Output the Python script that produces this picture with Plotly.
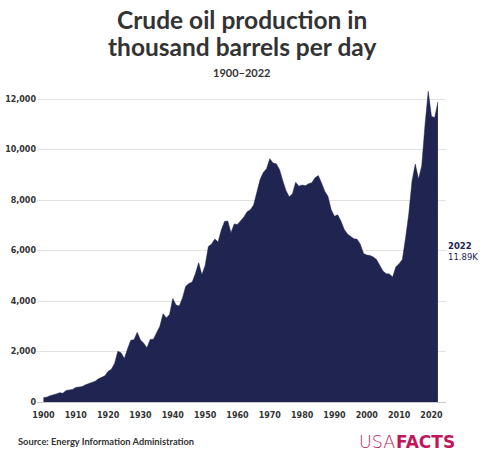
import plotly.graph_objects as go

years = list(range(1900, 2023))
production = [
    174, 190, 244, 275, 320, 369, 347, 456, 489, 500,
    574, 604, 610, 681, 728, 770, 823, 917, 975, 1038,
    1214, 1298, 1530, 2007, 1950, 1720, 2100, 2450, 2470, 2760,
    2460, 2330, 2145, 2480, 2490, 2730, 3000, 3500, 3330, 3470,
    4100, 3840, 3800, 4125, 4585, 4695, 4750, 5090, 5520, 5045,
    5405, 6160, 6255, 6460, 6340, 6810, 7150, 7170, 6710, 7055,
    7035, 7185, 7330, 7540, 7615, 7805, 8295, 8810, 9095, 9240,
    9640, 9465, 9440, 9210, 8775, 8375, 8130, 8245, 8705, 8550,
    8595, 8570, 8650, 8690, 8880, 8970, 8680, 8350, 8140, 7615,
    7355, 7415, 7170, 6845, 6660, 6560, 6465, 6450, 6250, 5880,
    5820, 5800, 5745, 5650, 5440, 5185, 5085, 5075, 4950, 5355,
    5480, 5645, 6500, 7465, 8760, 9430, 8830, 9355, 10955, 12310,
    11320, 11265, 11890,
]
x_ticks = list(range(1900, 2021, 10))
y_ticks = list(range(0, 12001, 2000))

title_lines = ["Crude oil production in", "thousand barrels per day"]
subtitle = "1900–2022"
source = "Source: Energy Information Administration"
last_label = "<b>2022</b><br>11.89K"
logo_light = "USA"
logo_bold = "FACTS"

NAVY = "#1f2451"
TXT = "#333333"
LOGO = "#c2185b"

L, R, T, B = 37, 34, 89, 58
PW = 480 - L - R
PH = 460 - T - B


def py(Y):
    return (460 - B - Y) / PH


def px(X):
    return (X - L) / PW


fig = go.Figure()
fig.add_trace(go.Scatter(
    x=years, y=production, mode="lines", fill="tozeroy",
    line=dict(color=NAVY, width=0.5), fillcolor=NAVY,
    hoverinfo="x+y", showlegend=False,
))

anns = [
    dict(text="<b>" + title_lines[0] + "</b>", x=0.5, y=py(19), yanchor="middle",
         font=dict(family="Lato", size=24.5, color=TXT)),
    dict(text="<b>" + title_lines[1] + "</b>", x=0.5, y=py(46), yanchor="middle",
         font=dict(family="Lato", size=24.5, color=TXT)),
    dict(text="<b>" + subtitle + "</b>", x=0.5, y=py(72), yanchor="middle",
         font=dict(family="Lato", size=11, color=TXT)),
    dict(text=last_label, x=1.0, y=py(251), xanchor="left", yanchor="middle", align="left",
         font=dict(family="DejaVu Sans", size=8.5, color=NAVY)),
    dict(text="<b>" + source + "</b>", x=px(16), y=py(442), xanchor="left", yanchor="middle",
         font=dict(family="Lato", size=9.3, color=TXT)),
    dict(text=logo_light, x=px(396.5), y=py(442), xanchor="right", yanchor="middle",
         font=dict(family="DejaVu Sans", size=17.5, color=LOGO, weight=300)),
    dict(text="<b>" + logo_bold + "</b>", x=px(394), y=py(442), xanchor="left", yanchor="middle",
         font=dict(family="DejaVu Sans", size=17, color=LOGO)),
]
for a in anns:
    a.update(xref="paper", yref="paper", showarrow=False)
    a.setdefault("xanchor", "center")

fig.update_layout(
    width=480, height=460,
    margin=dict(l=L, r=R, t=T, b=B),
    paper_bgcolor="white", plot_bgcolor="white",
    annotations=anns,
    xaxis=dict(range=[1898, 2024.5], tickvals=x_ticks, showgrid=False,
               zeroline=False, showline=False, automargin=False,
               ticks="outside", ticklen=5, tickcolor="rgba(0,0,0,0)",
               tickfont=dict(family="DejaVu Sans", size=8, color=TXT, weight="bold")),
    yaxis=dict(range=[0, 12400], tickvals=y_ticks, tickformat=",",
               showgrid=True, gridcolor="#e2e2e2", gridwidth=1,
               zeroline=True, zerolinecolor="#c9c9c9", zerolinewidth=1,
               showline=False, ticks="", automargin=False,
               tickfont=dict(family="DejaVu Sans", size=8, color=TXT, weight="bold")),
)

fig.write_html("out.html")
